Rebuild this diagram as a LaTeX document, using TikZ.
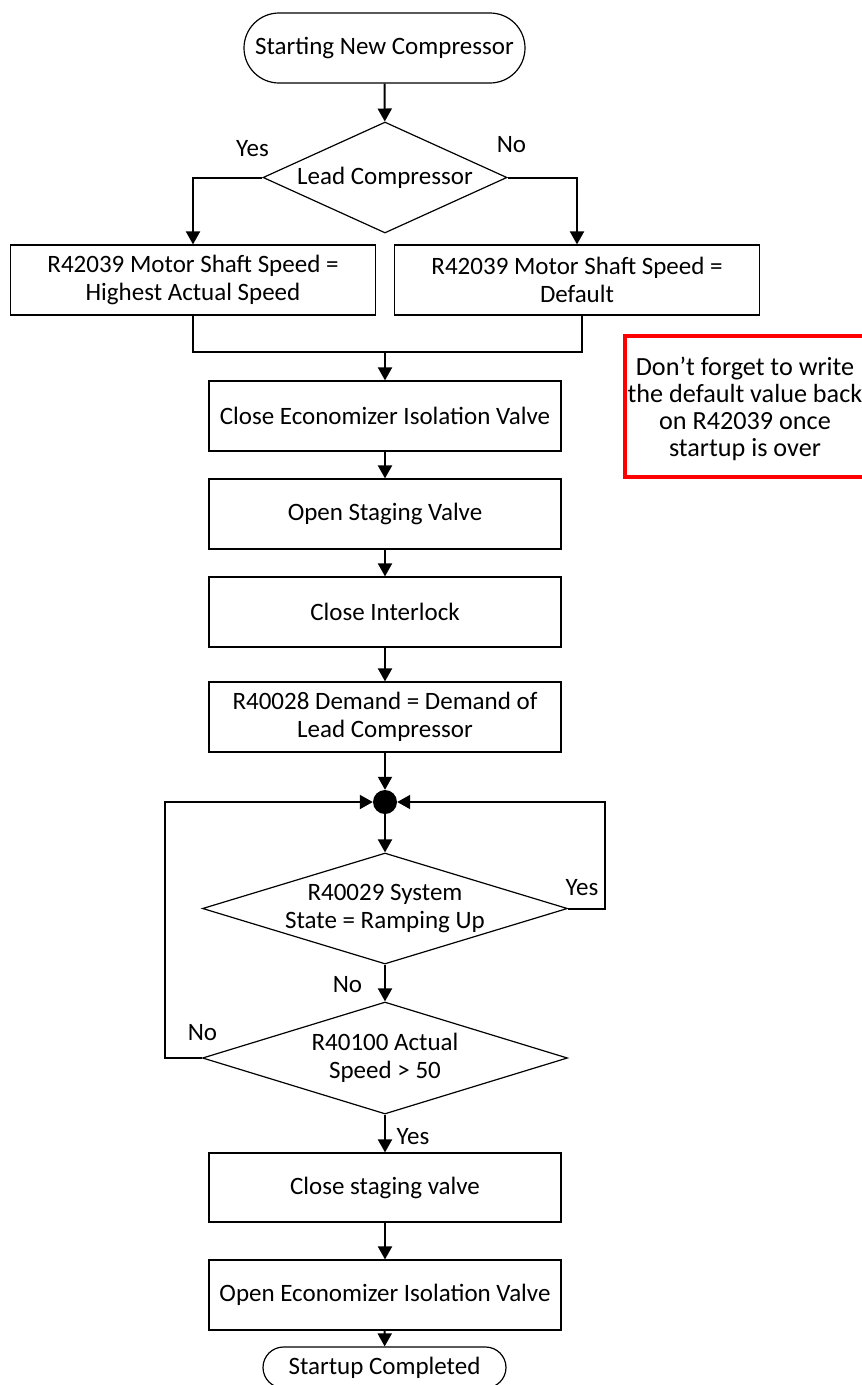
\documentclass[tikz,border=0pt]{standalone}
\usepackage{fontspec}
\setmainfont{Carlito}
\usetikzlibrary{arrows.meta,shapes.geometric,shapes.misc}

\begin{document}
\begin{tikzpicture}[x=1pt,y=-1pt,
  every node/.style={font=\fontsize{25}{28.5}\selectfont, align=center},
  box/.style={draw, line width=1.2pt, minimum height=70pt, inner sep=0pt},
  term/.style={draw, line width=1.2pt, rounded rectangle, inner sep=0pt},
  decision/.style={draw, diamond, line width=1.2pt, inner sep=0pt},
  flow/.style={line width=2pt, -{Triangle[width=14pt,length=13pt]}},
  link/.style={line width=2pt},
  note/.style={draw=red, line width=4pt, inner sep=0pt,
    minimum width=240pt, minimum height=141pt},
]
\useasboundingbox (0,0) rectangle (862,1385);

% start terminator and lead-compressor decision
\node[term, minimum width=281pt, minimum height=70pt] (start) at (384.5,48) {Starting New Compressor};
\node[decision, minimum width=244pt, minimum height=111pt] (d1) at (385,177.5) {};
\node (d1t) at (d1) {Lead Compressor};

% speed setpoint boxes
\node[box, minimum width=365pt] (bl) at (193,280) {R42039 Motor Shaft Speed =\\Highest Actual Speed};
\node[box, minimum width=365pt] (br) at (577,280) {R42039 Motor Shaft Speed =\\Default};
\coordinate (m) at (385,352);

% sequence of steps
\node[box, minimum width=352pt] (b1) at (385,416) {Close Economizer Isolation Valve};
\node[box, minimum width=352pt] (b2) at (385,514) {Open Staging Valve};
\node[box, minimum width=352pt] (b3) at (385,612) {Close Interlock};
\node[box, minimum width=352pt] (b4) at (385,717) {R40028 Demand = Demand of\\Lead Compressor};

% loop junction
\node[circle, fill=black, minimum size=24pt, inner sep=0pt] (dot) at (385,802) {};

% ramping-up and speed checks
\node[decision, minimum width=365pt, minimum height=111pt] (d2) at (385,908.5) {};
\node (d2t) at (385,908.5) {R40029 System\\State = Ramping Up};
\node[decision, minimum width=365pt, minimum height=112pt] (d3) at (385,1058) {};
\node (d3t) at (385,1058) {R40100 Actual\\Speed > 50};

% final steps
\node[box, minimum width=352pt, minimum height=69pt] (b5) at (385,1187.5) {Close staging valve};
\node[box, minimum width=352pt] (b6) at (385,1295) {Open Economizer Isolation Valve};
\node[term, minimum width=243pt, minimum height=41pt] (end) at (384.5,1367.5) {Startup Completed};

% reminder note
\node[note] (memo) at (745,406.5) {};
\node[font=\fontsize{26.2}{27}\selectfont] (memot) at (745,408.5)
  {Don’t forget to write\\the default value back\\on R42039 once\\startup is over};

% loop corners
\coordinate (rc) at (605,802);
\coordinate (lc) at (165,802);

% connectors
\draw[flow] (start) -- (d1);
\draw[flow] (d1.west) -| (bl.north);
\draw[flow] (d1.east) -| (br.north);
\draw[link] (bl.south) |- (m);
\draw[link] ([xshift=5pt]br.south) |- (m);
\draw[flow] (m) -- (b1);
\draw[flow] (b1) -- (b2);
\draw[flow] (b2) -- (b3);
\draw[flow] (b3) -- (b4);
\draw[flow] (b4) -- (dot);
\draw[flow] (dot) -- (d2);
\draw[flow] (d2.east) -| (rc) -- (dot);
\draw[flow] (d2) -- (d3);
\draw[flow] (d3.west) -| (lc) -- (dot);
\draw[flow] (d3) -- (b5);
\draw[flow] (b5) -- (b6);
\draw[flow] (b6) -- (end);

% branch labels
\node (l1) at (252.5,149) {Yes};
\node (l2) at (511.5,145) {No};
\node (l3) at (582,887.5) {Yes};
\node (l4) at (347.5,984.5) {No};
\node (l5) at (202.5,1033) {No};
\node (l6) at (413,1137) {Yes};
\end{tikzpicture}
\end{document}
